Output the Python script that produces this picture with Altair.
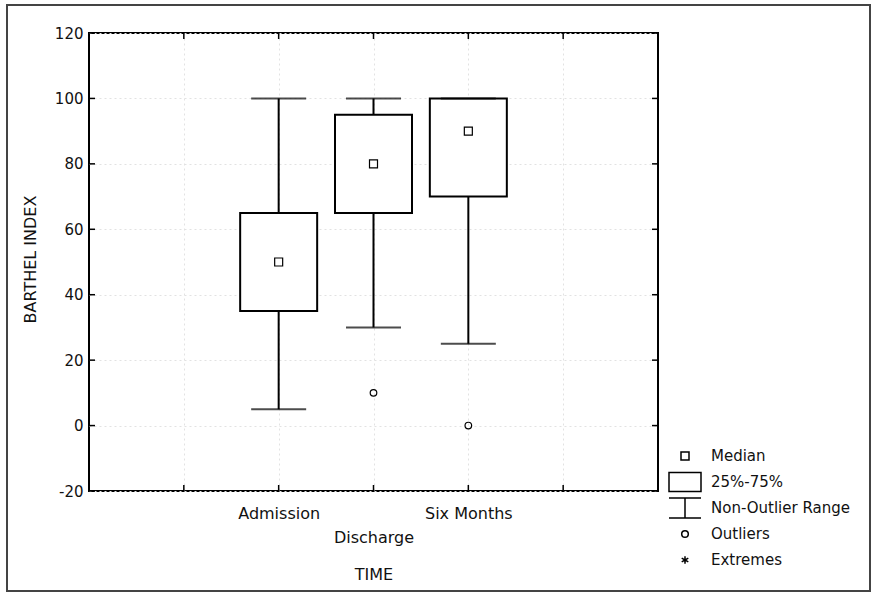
import altair as alt
import pandas as pd

# ---- data ----
categories = ["Admission", "Discharge", "Six Months"]
whisker_low = [5, 30, 25]
q1 = [35, 65, 70]
median = [50, 80, 90]
q3 = [65, 95, 100]
whisker_high = [100, 100, 100]
outlier_cats = ["Discharge", "Six Months"]
outlier_vals = [10, 0]
y_ticks = [-20, 0, 20, 40, 60, 80, 100, 120]
legend_items = ["Median", "25%-75%", "Non-Outlier Range", "Outliers", "Extremes"]
x_title = "TIME"
y_title = "BARTHEL INDEX"

# ---- layout ----
W, H = 569, 458
PAD_L, PAD_T = 89, 33
FONT = "DejaVu Sans"
INK = "#111111"
GRID = "#e2e2e2"
SYM = 400  # symbol size -> 10 px per path unit

x_domain = ["_lo"] + categories + ["_hi"]

box_df = pd.DataFrame({"cat": categories, "low": whisker_low, "q1": q1,
                       "med": median, "q3": q3, "high": whisker_high})
pts_df = pd.DataFrame({"cat": categories + outlier_cats,
                       "val": median + outlier_vals,
                       "kind": ["Median"] * len(categories) + ["Outliers"] * len(outlier_cats)})
xt_df = pd.DataFrame({"cat": x_domain})
yt_df = pd.DataFrame({"v": y_ticks})
one_df = pd.DataFrame({"a": [0]})

# invisible moves give every legend symbol the same height, so rows are evenly spaced
EQ = "M0,-0.99M0,0.99"
shape_paths = [
    EQ + "M-0.4,-0.4H0.4V0.4H-0.4Z",
    EQ + "M-1.6,-0.95H1.6V0.95H-1.6Z",
    EQ + "M-1.6,-0.99H1.6M0,-0.99V0.99M-1.6,0.99H1.6",
    EQ + "M0.33,0A0.33,0.33 0 1,1 -0.33,0A0.33,0.33 0 1,1 0.33,0Z",
    EQ + "M0,-0.37V0.37M-0.33,-0.19L0.33,0.19M-0.33,0.19L0.33,-0.19",
]

xscale = alt.Scale(type="point", domain=x_domain, padding=1)
yscale = alt.Scale(domain=[y_ticks[0], y_ticks[-1]], nice=False, zero=False)

stag = categories[1]
shown = " || ".join(f"datum.label == '{c}'" for c in categories)
label_expr = f"datum.label == '{stag}' ? ['', '{stag}'] : (({shown}) ? datum.label : '')"

x_axis = alt.Axis(title=x_title, labelExpr=label_expr, values=x_domain, ticks=False,
                  domain=False, grid=True, gridColor=GRID, gridDash=[2, 3],
                  gridWidth=1, labelFont=FONT, labelFontSize=16, labelPadding=14,
                  labelLineHeight=24, labelColor=INK, labelAngle=0, labelOverlap=False,
                  titleFont=FONT, titleFontSize=16, titleFontWeight="normal",
                  titleColor=INK, titleY=88, titleBaseline="alphabetic")
y_axis = alt.Axis(title=y_title, values=y_ticks, ticks=False, domain=False, grid=True,
                  gridColor=GRID, gridDash=[2, 3], gridWidth=1,
                  labelExpr="'' + datum.value",
                  labelFont=FONT, labelFontSize=15, labelPadding=6, labelColor=INK,
                  titleFont=FONT, titleFontSize=16, titleFontWeight="normal",
                  titleColor=INK, titleX=-59, titleY=226, titleBaseline="middle")


def X():
    return alt.X("cat:N", scale=xscale, axis=x_axis, title=x_title)


def Y(f):
    return alt.Y(f, scale=yscale, axis=y_axis, title=y_title)


boxes = alt.Chart(box_df).mark_bar(size=77, fill="white", stroke="black",
                                   strokeWidth=2, orient="vertical").encode(
    x=X(), y=Y("q1:Q"), y2="q3:Q")

wl = alt.Chart(box_df).mark_rule(color="black", strokeWidth=2).encode(
    x=X(), y=Y("low:Q"), y2="q1:Q")
wh = alt.Chart(box_df).mark_rule(color="black", strokeWidth=2).encode(
    x=X(), y=Y("q3:Q"), y2="high:Q")

caps = alt.Chart(box_df).transform_fold(["low", "high"], as_=["end", "cv"]).mark_tick(
    orient="horizontal", size=55, thickness=2, color="black").encode(
    x=X(), y=Y("cv:Q"))

pts = alt.Chart(pts_df).mark_point(filled=False, color="black", strokeWidth=1.2,
                                   size=SYM, opacity=1).encode(
    x=X(), y=Y("val:Q"),
    shape=alt.Shape("kind:N", scale=alt.Scale(domain=legend_items, range=shape_paths),
                    legend=alt.Legend(title=None, orient="none", legendX=585, legendY=412,
                                      symbolSize=SYM, symbolStrokeWidth=1.5,
                                      symbolStrokeColor="black",
                                      symbolFillColor="transparent", symbolOpacity=1,
                                      symbolOffset=0, labelOffset=15, labelFont=FONT,
                                      labelFontSize=15, labelColor=INK, rowPadding=0,
                                      padding=0, labelLimit=300)))

tk_left = alt.Chart(yt_df).mark_rule(color="black", strokeWidth=1.5).encode(
    y=Y("v:Q"), x=alt.value(0), x2=alt.value(6))
tk_right = alt.Chart(yt_df).mark_rule(color="black", strokeWidth=1.5).encode(
    y=Y("v:Q"), x=alt.value(W), x2=alt.value(W - 6))
tk_bot = alt.Chart(xt_df).mark_rule(color="black", strokeWidth=1.5).encode(
    x=X(), y=alt.value(H), y2=alt.value(H - 6))
tk_top = alt.Chart(xt_df).mark_rule(color="black", strokeWidth=1.5).encode(
    x=X(), y=alt.value(0), y2=alt.value(6))

frame = alt.Chart(one_df).mark_rect(fillOpacity=0, stroke="#444444", strokeWidth=2).encode(
    x=alt.value(7 - PAD_L), x2=alt.value(870 - PAD_L),
    y=alt.value(5 - PAD_T), y2=alt.value(591 - PAD_T))

chart = alt.layer(boxes, wl, wh, caps, pts, tk_left, tk_right, tk_bot, tk_top, frame).properties(
    width=W, height=H,
    autosize=alt.AutoSizeParams(type="none"),
    padding={"left": PAD_L, "top": PAD_T, "right": 874 - PAD_L - W, "bottom": 600 - PAD_T - H},
    background="white",
).configure_view(stroke="black", strokeWidth=2)

chart.save("out.html", embed_options={"renderer": "svg", "actions": False})
